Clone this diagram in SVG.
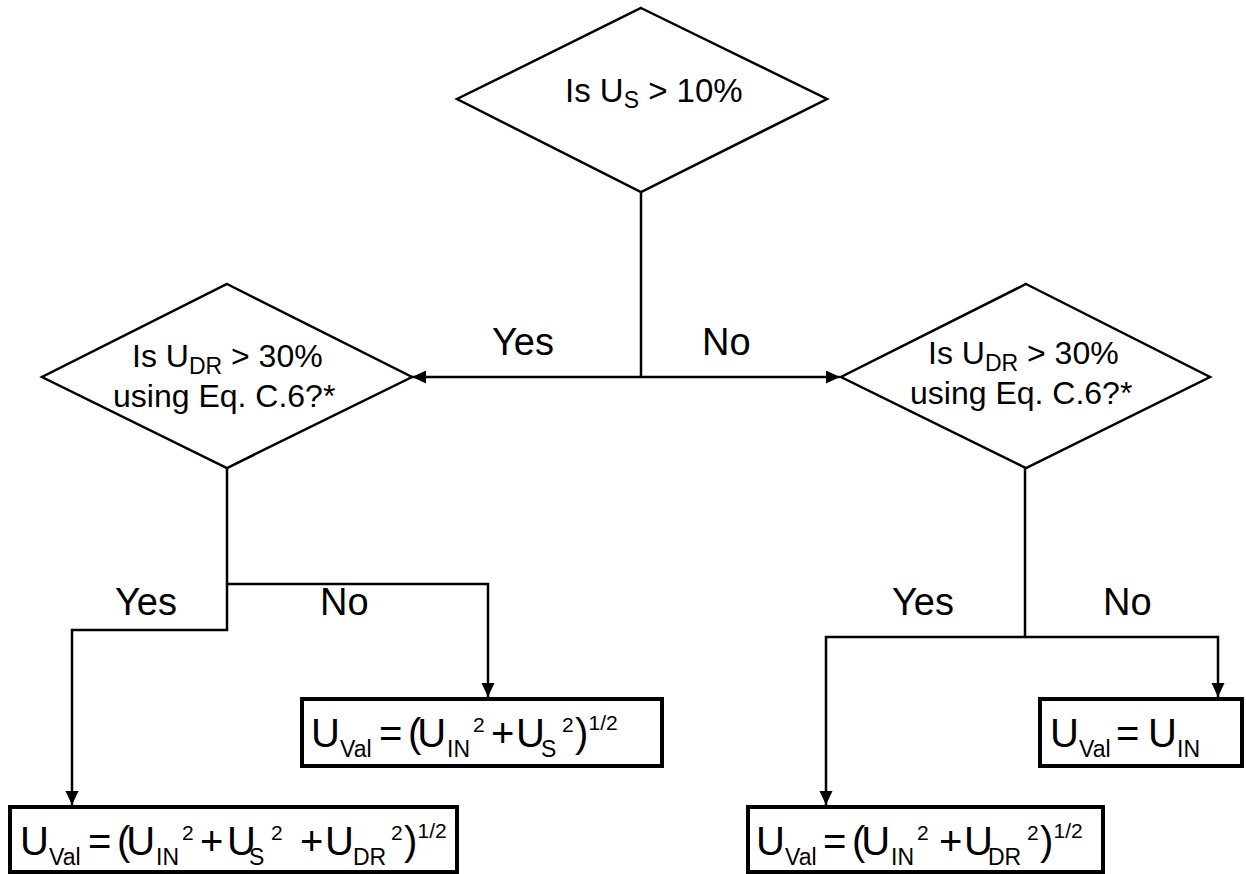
<svg xmlns="http://www.w3.org/2000/svg" width="1246" height="874" viewBox="0 0 1246 874">
<defs>
<style>
.d{fill:#fff;stroke:#000;stroke-width:2.5}
.b{fill:#fff;stroke:#000;stroke-width:4}
.c{fill:none;stroke:#000;stroke-width:2.5}
text{font-family:"Liberation Sans",Arial,sans-serif;fill:#000}
.q{font-size:32px}
.t{font-size:33px}
.l{font-size:38px}
.f{font-size:40px}
.sb{font-size:23px}
.sp{font-size:21px}
.pu{letter-spacing:-4px}
</style>
<marker id="ah" markerUnits="userSpaceOnUse" markerWidth="15" markerHeight="14" refX="14" refY="6.5" orient="auto">
<path d="M0,0 L14,6.5 L0,13 z" fill="#000"/>
</marker>
</defs>
<rect width="1246" height="874" fill="#fff"/>
<g id="connectors">
<path class="c" d="M641,192 V377"/>
<path class="c" d="M641,377 H412" marker-end="url(#ah)"/>
<path class="c" d="M641,377 H840" marker-end="url(#ah)"/>
<path class="c" d="M227,453 V630 H72 V805" marker-end="url(#ah)"/>
<path class="c" d="M227,584 H488 V697" marker-end="url(#ah)"/>
<path class="c" d="M1025,468 V637 H826 V805" marker-end="url(#ah)"/>
<path class="c" d="M1025,637 H1218 V697" marker-end="url(#ah)"/>
<text class="l" x="492" y="355">Yes</text>
<text class="l" x="702" y="355">No</text>
<text class="l" x="115" y="615">Yes</text>
<text class="l" x="320" y="615">No</text>
<text class="l" x="892" y="615">Yes</text>
<text class="l" x="1103" y="615">No</text>
</g>
<g id="q1">
<polygon class="d" points="641,8 827,99 641,192 457,99"/>
<text class="t" x="565" y="102">Is U<tspan class="sb" dy="6">S</tspan><tspan dy="-6"> &gt; 10%</tspan></text>
</g>
<g id="q2">
<polygon class="d" points="227,284 412,377 227,468 42,377"/>
<text class="q" x="132" y="367">Is U<tspan class="sb" dy="7">DR</tspan><tspan dy="-7"> &gt; 30%</tspan></text>
<text class="q" x="113" y="407">using Eq. C.6?*</text>
</g>
<g id="q3">
<polygon class="d" points="1026,284 1210,377 1026,468 841,377"/>
<text class="q" x="928" y="364">Is U<tspan class="sb" dy="7">DR</tspan><tspan dy="-7"> &gt; 30%</tspan></text>
<text class="q" x="910" y="404">using Eq. C.6?*</text>
</g>
<g id="r1">
<rect class="b" x="10" y="807" width="447" height="65"/>
<text class="f" y="855"><tspan x="20">U</tspan><tspan class="sb" x="49" y="865">Val</tspan><tspan x="88" y="855">=</tspan><tspan class="pu" x="117">(U</tspan><tspan class="sb" x="156" y="865">IN</tspan><tspan class="sp" x="182" y="840">2</tspan><tspan x="200" y="855">+</tspan><tspan x="227" letter-spacing="-8px">U</tspan><tspan class="sb" x="249" y="865">S</tspan><tspan class="sp" x="271" y="840">2</tspan><tspan x="300" y="855">+</tspan><tspan x="325" letter-spacing="-2px">U</tspan><tspan class="sb" x="353" y="865">DR</tspan><tspan class="sp" x="391" y="840">2</tspan><tspan x="404" y="855">)</tspan><tspan class="sp" x="417.5" y="838">1/2</tspan></text>
</g>
<g id="r2">
<rect class="b" x="302" y="699" width="360" height="67"/>
<text class="f" y="747"><tspan x="311">U</tspan><tspan class="sb" x="340" y="757">Val</tspan><tspan x="379" y="747">=</tspan><tspan class="pu" x="408">(U</tspan><tspan class="sb" x="447" y="757">IN</tspan><tspan class="sp" x="473" y="732">2</tspan><tspan x="491" y="747">+</tspan><tspan x="516" letter-spacing="-5px">U</tspan><tspan class="sb" x="541" y="757">S</tspan><tspan class="sp" x="562" y="732">2</tspan><tspan x="575" y="747">)</tspan><tspan class="sp" x="588.5" y="730">1/2</tspan></text>
</g>
<g id="r3">
<rect class="b" x="1040" y="699" width="202" height="67"/>
<text class="f" y="747"><tspan x="1050">U</tspan><tspan class="sb" x="1079" y="757">Val</tspan><tspan x="1116" y="747">=</tspan><tspan x="1148" letter-spacing="-2px">U</tspan><tspan class="sb" x="1177" y="757">IN</tspan></text>
</g>
<g id="r4">
<rect class="b" x="748" y="807" width="355" height="65"/>
<text class="f" y="855"><tspan x="756">U</tspan><tspan class="sb" x="785" y="865">Val</tspan><tspan x="823" y="855">=</tspan><tspan class="pu" x="852">(U</tspan><tspan class="sb" x="891" y="865">IN</tspan><tspan class="sp" x="917" y="840">2</tspan><tspan x="939" y="855">+</tspan><tspan x="964" letter-spacing="-6px">U</tspan><tspan class="sb" x="988" y="865">DR</tspan><tspan class="sp" x="1027" y="840">2</tspan><tspan x="1040" y="855">)</tspan><tspan class="sp" x="1053.5" y="838">1/2</tspan></text>
</g>
</svg>
